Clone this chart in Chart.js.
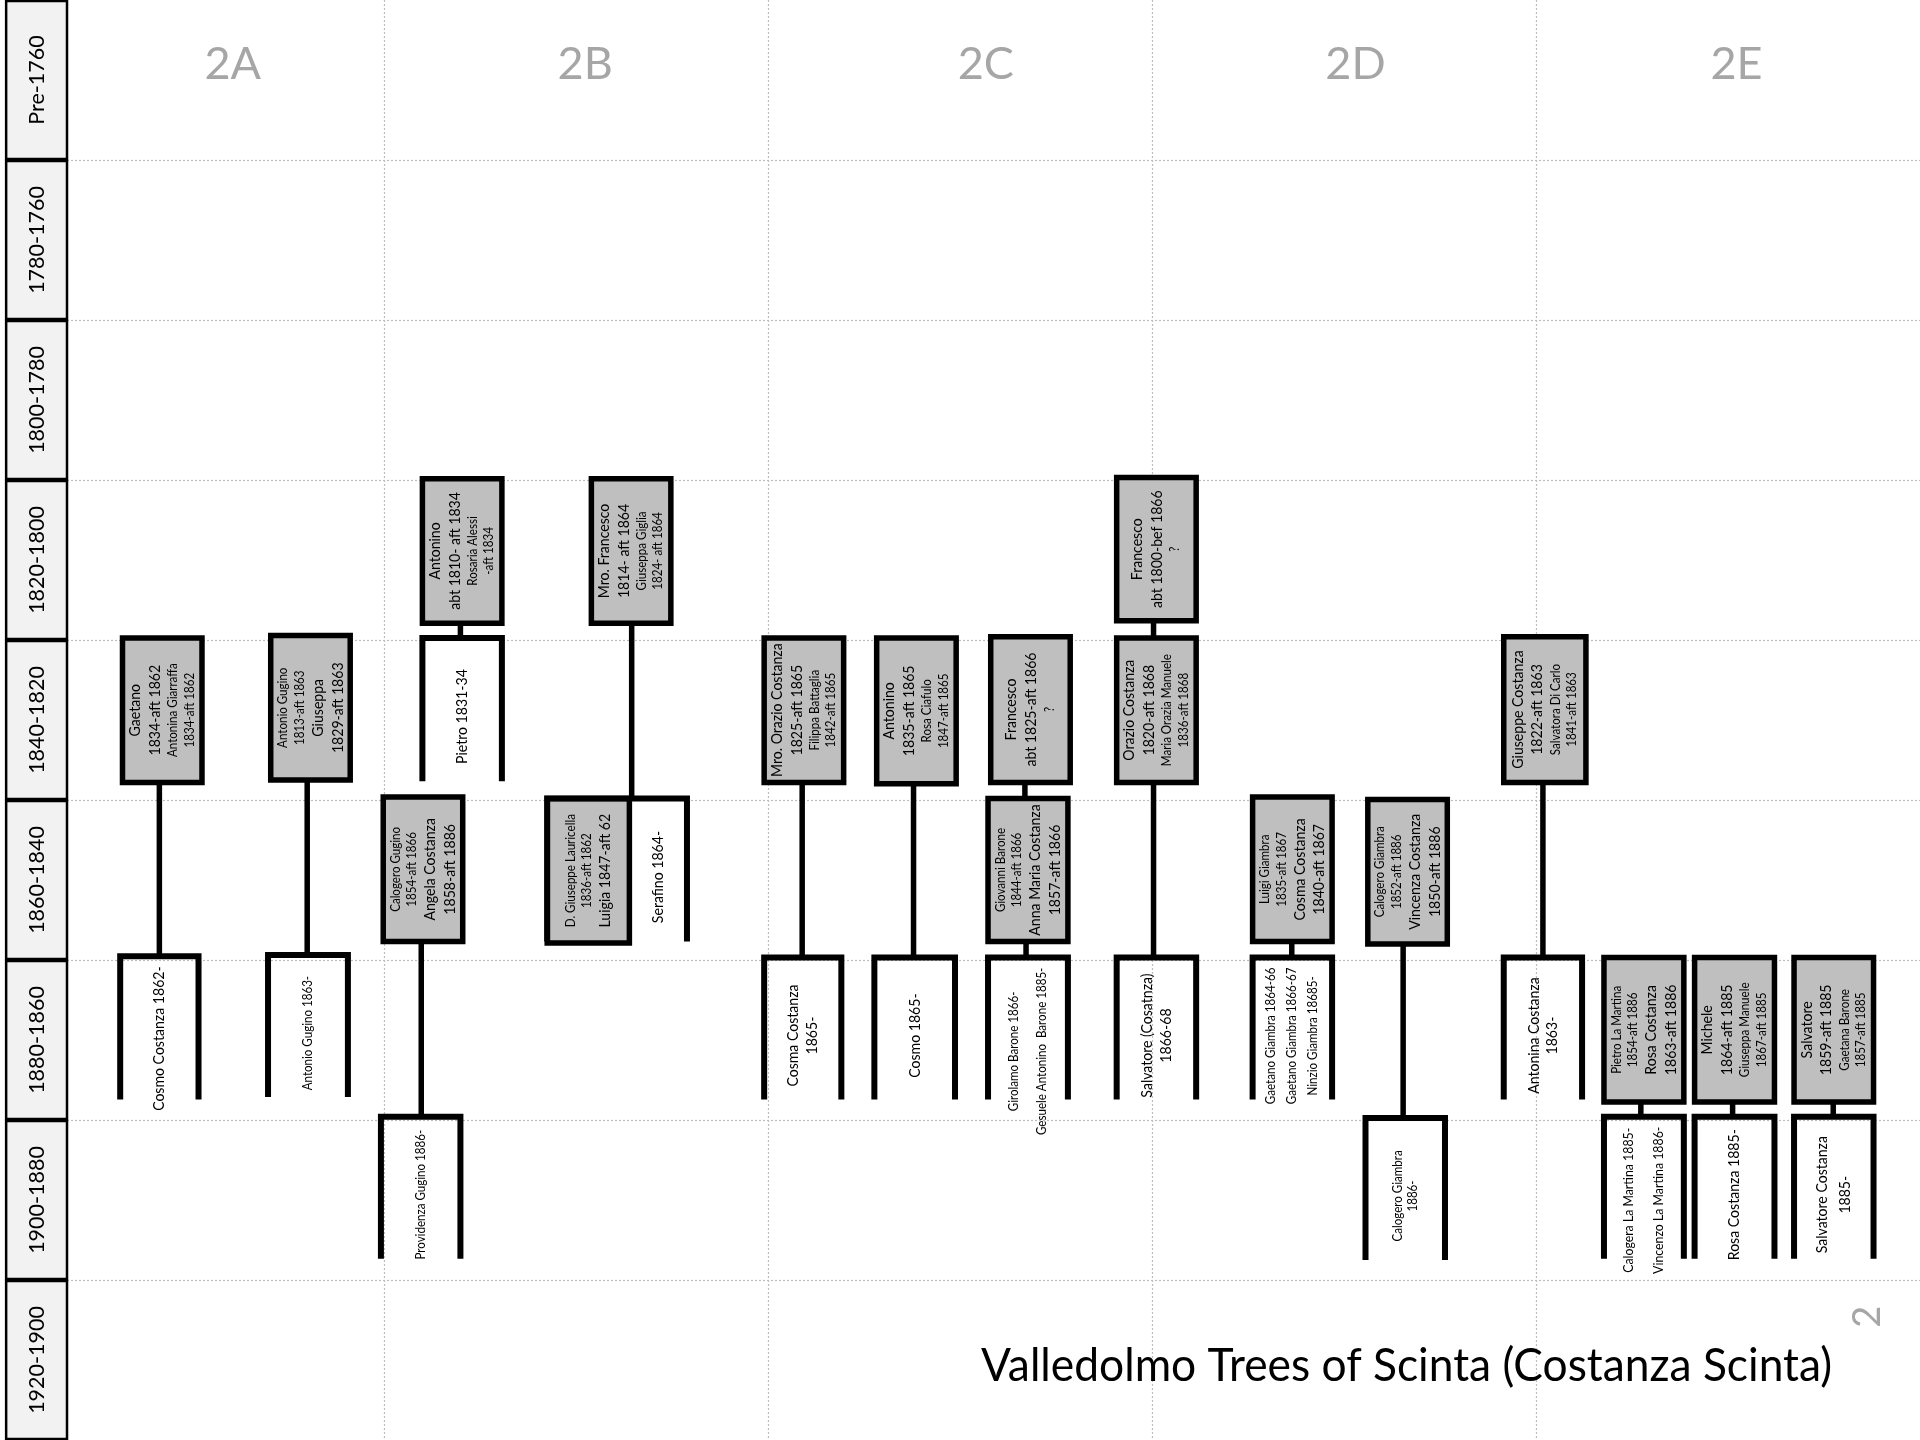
<!DOCTYPE html>
<html>
<head>
<meta charset="utf-8">
<title>Valledolmo Trees of Scinta</title>
<script src="https://cdn.jsdelivr.net/npm/chart.js@4.4.1/dist/chart.umd.min.js"></script>
<style>
  html, body { margin: 0; padding: 0; background: #ffffff; }
  #wrap { width: 1920px; height: 1440px; }
  canvas { display: block; }
</style>
</head>
<body>
<div id="wrap"><canvas id="c" width="1920" height="1440"></canvas></div>
<script>
// ---------------- DATA ----------------
const periods = ['Pre-1760','1780-1760','1800-1780','1820-1800','1840-1820','1860-1840','1880-1860','1900-1880','1920-1900'];
const branches = ['2A','2B','2C','2D','2E'];
const branchLabelX = [0.606, 1.524, 2.567, 3.530, 4.522];
const titleText = 'Valledolmo Trees of Scinta (Costanza Scinta)';
const pageNumber = '2';

// couples (grey boxes): x in branch units, y in period rows
const coupleX0 = [0.319, 0.705, 1.100, 0.998, 1.540, 1.425, 1.990, 2.283, 2.580, 2.573, 2.908, 2.908, 3.262, 3.562, 3.916, 4.177, 4.413, 4.672];
const coupleX1 = [0.526, 0.912, 1.307, 1.205, 1.747, 1.639, 2.197, 2.490, 2.787, 2.781, 3.115, 3.115, 3.469, 3.769, 4.130, 4.385, 4.621, 4.879];
const coupleY0 = [3.987, 3.972, 2.992, 4.982, 2.992, 4.990, 3.987, 3.987, 3.979, 4.990, 2.985, 3.987, 4.982, 4.997, 3.979, 5.985, 5.985, 5.985];
const coupleY1 = [4.890, 4.875, 3.895, 5.885, 3.895, 5.893, 4.890, 4.898, 4.890, 5.885, 3.880, 4.890, 5.885, 5.900, 4.890, 6.888, 6.888, 6.888];
const coupleText = [
  ['Gaetano','1834-aft 1862','Antonina Giarraffa','1834-aft 1862'],
  ['Antonio Gugino','1813-aft 1863','Giuseppa','1829-aft 1863'],
  ['Antonino','abt 1810- aft 1834','Rosaria Alessi','-aft 1834'],
  ['Calogero Gugino','1854-aft 1866','Angela Costanza','1858-aft 1886'],
  ['Mro. Francesco','1814- aft 1864','Giuseppa Giglia','1824- aft 1864'],
  ['D. Giuseppe Lauricella','1836-aft 1862','Luigia 1847-aft 62'],
  ['Mro. Orazio Costanza','1825-aft 1865','Filippa Battaglia','1842-aft 1865'],
  ['Antonino','1835-aft 1865','Rosa Ciafulo','1847-aft 1865'],
  ['Francesco','abt 1825-aft 1866','?'],
  ['Giovanni Barone','1844-aft 1866','Anna Maria Costanza','1857-aft 1866'],
  ['Francesco','abt 1800-bef 1866','?'],
  ['Orazio Costanza','1820-aft 1868','Maria Orazia Manuele','1836-aft 1868'],
  ['Luigi Giambra','1835-aft 1867','Cosma Costanza','1840-aft 1867'],
  ['Calogero Giambra','1852-aft 1886','Vincenza Costanza','1850-aft 1886'],
  ['Giuseppe Costanza','1822-aft 1863','Salvatora Di Carlo','1841-aft 1863'],
  ['Pietro La Martina','1854-aft 1886','Rosa Costanza','1863-aft 1886'],
  ['Michele','1864-aft 1885','Giuseppa Manuele','1867-aft 1885'],
  ['Salvatore','1859-aft 1885','Gaetana Barone','1857-aft 1885']
];

// children (open brackets)
const childX0 = [0.313, 0.698, 1.100, 0.992, 1.425, 1.990, 2.277, 2.573, 2.908, 3.262, 3.556, 3.916, 4.177, 4.413, 4.672];
const childX1 = [0.517, 0.906, 1.307, 1.199, 1.789, 2.191, 2.487, 2.781, 3.115, 3.469, 3.763, 4.120, 4.385, 4.621, 4.879];
const childY0 = [5.977, 5.969, 3.987, 6.979, 4.990, 5.985, 5.985, 5.985, 5.985, 5.985, 6.987, 5.985, 6.979, 6.979, 6.979];
const childY1 = [6.872, 6.857, 4.883, 7.867, 5.885, 6.872, 6.872, 6.872, 6.872, 6.872, 7.875, 6.872, 7.867, 7.867, 7.867];
const childText = [
  ['Cosmo Costanza 1862-'],
  ['Antonio Gugino 1863-'],
  ['Pietro 1831-34'],
  ['Providenza Gugino 1886-'],
  ['Serafino 1864-'],
  ['Cosma Costanza','1865-'],
  ['Cosmo 1865-'],
  ['Girolamo Barone 1866-','Gesuele Antonino  Barone 1885-'],
  ['Salvatore (Cosatnza)','1866-68'],
  ['Gaetano Giambra 1864-66','Gaetano Giambra 1866-67','Ninzio Giambra 18685-'],
  ['Calogero Giambra','1886-'],
  ['Antonina Costanza','1863-'],
  ['Calogera La Martina 1885-','Vincenzo La Martina 1886-'],
  ['Rosa Costanza 1885-'],
  ['Salvatore Costanza','1885-']
];

// descent links (vertical connectors)
const linkX  = [0.415, 0.800, 1.199, 1.097, 1.645, 2.089, 2.379, 2.669, 2.672, 3.004, 3.004, 3.364, 3.654, 4.018, 4.273, 4.512, 4.774];
const linkY0 = [4.890, 4.875, 3.895, 5.885, 3.895, 4.890, 4.898, 4.890, 5.885, 3.880, 4.890, 5.885, 5.900, 4.890, 6.888, 6.888, 6.888];
const linkY1 = [5.977, 5.969, 3.987, 6.979, 4.990, 5.985, 5.985, 4.990, 5.985, 3.987, 5.985, 5.985, 6.987, 5.985, 6.979, 6.979, 6.979];

// ---------------- STYLE ----------------
const FONT = 'Lato, "Open Sans", sans-serif';
const SIZE = { L: 15.3, M: 13.4, S: 12.6 };
const CONDENSE = 0.92;
const coupleSizes = [
  'LLSS','SSLL','LLSS','SSLL','LLSS','SSL','LLSS','LLSS','LLS','SSLL','LLS','LLSS','SSLL','SSLL','LLSS','SSLL','LLSS','LLSS'
];
const childSizes = ['L','S','L','S','L','LL','L','SS','LL','SSS','SS','LL','MM','L','LL'];
const childPitch = [0,0,0,0,0,19.5,0,28,18.5,21,15,18.5,30,0,23];
const BAND_X0 = 0.016, BAND_X1 = 0.1745, BAND_LABEL_X = 0.0956;
const GRID_COLOR = '#bdbdbd';
const BOX_FILL = '#bfbfbf';
const BAND_FILL = '#f2f2f2';
const LABEL_GREY = '#a6a6a6';

function vtext(ctx, str, px, py, size, color, condense) {
  ctx.save();
  ctx.translate(px, py);
  ctx.rotate(-Math.PI / 2);
  ctx.scale(condense || 1, 1);
  ctx.font = size + 'px ' + FONT;
  ctx.fillStyle = color;
  ctx.textAlign = 'center';
  ctx.textBaseline = 'middle';
  ctx.fillText(str, 0, 0);
  ctx.restore();
}

function textLen(ctx, str, size) {
  ctx.font = size + 'px ' + FONT;
  return ctx.measureText(str).width * CONDENSE;
}

function stack(ctx, lines, sizes, cx, cy, pitchOverride) {
  const hs = lines.map((l, i) => SIZE[sizes[i]] * 1.3);
  const pos = [];
  let acc = 0;
  for (let i = 0; i < lines.length; i++) {
    if (i > 0) acc += pitchOverride ? pitchOverride : (hs[i - 1] + hs[i]) / 2;
    pos.push(acc);
  }
  const off = acc / 2;
  lines.forEach((l, i) => vtext(ctx, l, cx + pos[i] - off, cy, SIZE[sizes[i]], '#000', CONDENSE));
}

const drawPlugin = {
  id: 'familyTree',
  beforeDatasetsDraw(chart) {
    const { ctx, scales: { x, y } } = chart;
    ctx.save();
    // dotted grid
    ctx.strokeStyle = GRID_COLOR;
    ctx.lineWidth = 1.2;
    ctx.setLineDash([2, 2]);
    for (let r = 1; r < periods.length; r++) {
      const py = Math.round(y.getPixelForValue(r)) + 0.5;
      ctx.beginPath();
      ctx.moveTo(x.getPixelForValue(BAND_X1), py);
      ctx.lineTo(x.getPixelForValue(branches.length), py);
      ctx.stroke();
    }
    for (let c = 1; c < branches.length; c++) {
      const px = Math.round(x.getPixelForValue(c)) + 0.5;
      ctx.beginPath();
      ctx.moveTo(px, y.getPixelForValue(0));
      ctx.lineTo(px, y.getPixelForValue(periods.length));
      ctx.stroke();
    }
    ctx.setLineDash([]);
    // period band
    const bx0 = x.getPixelForValue(BAND_X0), bx1 = x.getPixelForValue(BAND_X1);
    periods.forEach((p, r) => {
      const y0 = y.getPixelForValue(r), y1 = y.getPixelForValue(r + 1);
      ctx.fillStyle = BAND_FILL;
      ctx.fillRect(bx0, y0, bx1 - bx0, y1 - y0);
      ctx.strokeStyle = '#000';
      ctx.lineWidth = 2.5;
      ctx.strokeRect(bx0, y0 + 1, bx1 - bx0, y1 - y0 - 2);
      vtext(ctx, p, x.getPixelForValue(BAND_LABEL_X), (y0 + y1) / 2, 21.5, '#000', 1);
    });
    // branch labels
    ctx.font = '45px ' + FONT;
    ctx.fillStyle = LABEL_GREY;
    ctx.textAlign = 'center';
    ctx.textBaseline = 'middle';
    branches.forEach((b, i) => {
      ctx.fillText(b, x.getPixelForValue(branchLabelX[i]), y.getPixelForValue(0.40));
    });
    ctx.restore();
  },
  afterDatasetsDraw(chart) {
    const { ctx, scales: { x, y } } = chart;
    ctx.save();
    coupleText.forEach((lines, i) => {
      const cx = (x.getPixelForValue(coupleX0[i]) + x.getPixelForValue(coupleX1[i])) / 2;
      const cy = (y.getPixelForValue(coupleY0[i]) + y.getPixelForValue(coupleY1[i])) / 2;
      stack(ctx, lines, coupleSizes[i], cx, cy, 0);
    });
    childText.forEach((lines, i) => {
      let left = childX0[i];
      // if a couple box sits inside the bracket, centre text in the free part
      coupleX0.forEach((cx0, j) => {
        if (cx0 >= childX0[i] - 0.01 && coupleX1[j] < childX1[i] - 0.05 &&
            coupleY0[j] < childY1[i] && coupleY1[j] > childY0[i]) left = Math.max(left, coupleX1[j]);
      });
      const cx = (x.getPixelForValue(left) + x.getPixelForValue(childX1[i])) / 2;
      const top = y.getPixelForValue(childY0[i]);
      let cy = (top + y.getPixelForValue(childY1[i])) / 2 + 7;
      const maxLen = Math.max(...lines.map((l, k) => textLen(ctx, l, SIZE[childSizes[i][k]])));
      cy = Math.max(cy, top + 10 + maxLen / 2);
      stack(ctx, lines, childSizes[i], cx, cy, childPitch[i]);
    });
    // page number
    vtext(ctx, pageNumber, x.getPixelForValue(4.865), y.getPixelForValue(8.23), 38, LABEL_GREY, 1);
    // title
    ctx.font = '46px ' + FONT;
    ctx.fillStyle = '#000';
    ctx.textAlign = 'left';
    ctx.textBaseline = 'alphabetic';
    const tw = ctx.measureText(titleText).width;
    const tx0 = x.getPixelForValue(2.555), tx1 = x.getPixelForValue(4.771);
    ctx.translate(tx0, y.getPixelForValue(8.63));
    ctx.scale((tx1 - tx0) / tw, 1);
    ctx.fillText(titleText, 0, 0);
    ctx.restore();
  }
};

// ---------------- DATASETS ----------------
const datasets = [];
linkX.forEach((lx, i) => {
  datasets.push({
    data: [{ x: lx, y: linkY0[i] }, { x: lx, y: linkY1[i] }],
    borderColor: '#000', borderWidth: 5.5, borderCapStyle: 'butt', fill: false, pointRadius: 0
  });
});
childX0.forEach((x0, i) => {
  const x1 = childX1[i], y0 = childY0[i], y1 = childY1[i];
  datasets.push({
    data: [{ x: x0, y: y1 }, { x: x0, y: y0 }, { x: x1, y: y0 }, { x: x1, y: y1 }],
    borderColor: '#000', borderWidth: 6, borderJoinStyle: 'miter', borderCapStyle: 'butt', fill: false, pointRadius: 0
  });
});
coupleX0.forEach((x0, i) => {
  const x1 = coupleX1[i], y0 = coupleY0[i], y1 = coupleY1[i], cx = (x0 + x1) / 2;
  datasets.push({
    data: [{ x: cx, y: y0 }, { x: x1, y: y0 }, { x: x1, y: y1 }, { x: x0, y: y1 }, { x: x0, y: y0 }, { x: cx, y: y0 }],
    borderColor: '#000', borderWidth: 5.5, borderJoinStyle: 'miter', borderCapStyle: 'butt',
    fill: 'shape', backgroundColor: BOX_FILL, pointRadius: 0
  });
});

new Chart(document.getElementById('c'), {
  type: 'line',
  data: { datasets },
  options: {
    responsive: false,
    animation: false,
    devicePixelRatio: 1,
    events: [],
    layout: { padding: 0 },
    plugins: { legend: { display: false }, tooltip: { enabled: false } },
    elements: { line: { tension: 0 }, point: { radius: 0, hoverRadius: 0 } },
    scales: {
      x: { type: 'linear', min: 0, max: branches.length, display: false },
      y: { type: 'linear', min: 0, max: periods.length, reverse: true, display: false }
    }
  },
  plugins: [drawPlugin]
});
</script>
</body>
</html>
